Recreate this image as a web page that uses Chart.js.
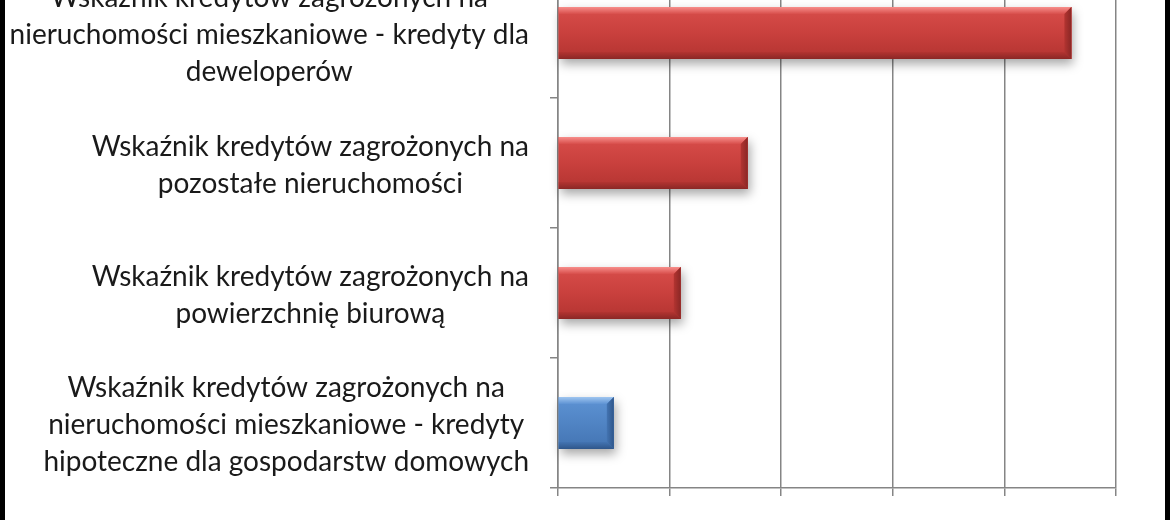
<!DOCTYPE html>
<html>
<head>
<meta charset="utf-8">
<script src="https://cdn.jsdelivr.net/npm/chart.js@4.4.1/dist/chart.umd.min.js"></script>
<style>
  html, body { margin: 0; padding: 0; width: 1170px; height: 520px; overflow: hidden; background: #fff; }
  #wrap { position: absolute; left: 0; top: -40px; width: 1170px; height: 600px; }
  .edge { position: absolute; top: 0; width: 5px; height: 520px; background: #000; }
</style>
</head>
<body>
<div id="wrap"><canvas id="chart"></canvas></div>
<div class="edge" style="left:0"></div>
<div class="edge" style="left:1165px"></div>
<script>
// category labels (one array entry per line)
const categories = [
  ['Wskaźnik kredytów zagrożonych na', 'nieruchomości mieszkaniowe - kredyty dla', 'deweloperów'],
  ['Wskaźnik kredytów zagrożonych na', 'pozostałe nieruchomości'],
  ['Wskaźnik kredytów zagrożonych na', 'powierzchnię biurową'],
  ['Wskaźnik kredytów zagrożonych na', 'nieruchomości mieszkaniowe - kredyty', 'hipoteczne dla gospodarstw domowych']
];
// NPL ratio, %
const nplRatio = [23.0, 8.5, 5.5, 2.5];
const xTickValues = [0, 5, 10, 15, 20, 25];
const barColors = ['red', 'red', 'red', 'blue'];

const palette = {
  red:  { hi: '#f78e8b', top: '#d84e4b', mid: '#c9403d', low: '#b33431', edge: '#8a2725' },
  blue: { hi: '#a0c6f0', top: '#5e93d4', mid: '#5084c4', low: '#4374b2', edge: '#2f568a' }
};

const LABEL_FONT = '28px Lato';
const LINE_GAP = 37;
const GRID = '#858585';

// soft drop shadow under the bars, then a bevelled look on top
const bevel = {
  id: 'bevel',
  beforeDatasetsDraw(chart) {
    const ctx = chart.ctx;
    chart.getDatasetMeta(0).data.forEach((bar, i) => {
      const left = Math.min(bar.base, bar.x), right = Math.max(bar.base, bar.x);
      const top = bar.y - bar.height / 2;
      ctx.save();
      ctx.shadowColor = 'rgba(0,0,0,0.35)';
      ctx.shadowBlur = 10;
      ctx.shadowOffsetX = 2;
      ctx.shadowOffsetY = 5;
      ctx.fillStyle = palette[barColors[i]].mid;
      ctx.fillRect(left, top, right - left, bar.height);
      ctx.restore();
    });
  },
  afterDatasetsDraw(chart) {
    const ctx = chart.ctx;
    chart.getDatasetMeta(0).data.forEach((bar, i) => {
      const c = palette[barColors[i]];
      const left = Math.min(bar.base, bar.x), right = Math.max(bar.base, bar.x);
      const top = bar.y - bar.height / 2, bottom = bar.y + bar.height / 2;
      const b = 7;
      ctx.save();
      let g = ctx.createLinearGradient(0, top, 0, bottom);
      g.addColorStop(0, c.top);
      g.addColorStop(0.5, c.mid);
      g.addColorStop(1, c.low);
      ctx.fillStyle = g;
      ctx.fillRect(left, top, right - left, bottom - top);

      g = ctx.createLinearGradient(0, top, 0, top + b);
      g.addColorStop(0, c.hi);
      g.addColorStop(1, c.top);
      ctx.fillStyle = g;
      ctx.beginPath();
      ctx.moveTo(left, top); ctx.lineTo(right, top);
      ctx.lineTo(right - b, top + b); ctx.lineTo(left, top + b);
      ctx.closePath(); ctx.fill();

      g = ctx.createLinearGradient(0, bottom - b, 0, bottom);
      g.addColorStop(0, c.low);
      g.addColorStop(1, c.edge);
      ctx.fillStyle = g;
      ctx.beginPath();
      ctx.moveTo(left, bottom); ctx.lineTo(right, bottom);
      ctx.lineTo(right - b, bottom - b); ctx.lineTo(left, bottom - b);
      ctx.closePath(); ctx.fill();

      g = ctx.createLinearGradient(right - b, 0, right, 0);
      g.addColorStop(0, c.low);
      g.addColorStop(1, c.edge);
      ctx.fillStyle = g;
      ctx.beginPath();
      ctx.moveTo(right, top); ctx.lineTo(right, bottom);
      ctx.lineTo(right - b, bottom - b); ctx.lineTo(right - b, top + b);
      ctx.closePath(); ctx.fill();
      ctx.restore();
    });
  }
};

// multi-line labels: block right-aligned to the axis, lines centred in the block
const catLabels = {
  id: 'catLabels',
  afterDraw(chart) {
    const y = chart.scales.y;
    const ctx = chart.ctx;
    ctx.save();
    ctx.font = LABEL_FONT;
    ctx.fillStyle = '#1a1a1a';
    ctx.textAlign = 'center';
    ctx.textBaseline = 'middle';
    categories.forEach((lines, i) => {
      const cy = y.getPixelForValue(i) + 2;
      const widest = Math.max(...lines.map(l => ctx.measureText(l).width));
      const cx = y.right - 29 - widest / 2;
      lines.forEach((l, k) => {
        ctx.fillText(l, cx, cy + (k - (lines.length - 1) / 2) * LINE_GAP);
      });
    });
    ctx.restore();
  }
};

new Chart(document.getElementById('chart'), {
  type: 'bar',
  data: {
    labels: categories.map(c => c.join(' ')),
    datasets: [{
      data: nplRatio,
      backgroundColor: barColors.map(k => palette[k].mid),
      borderWidth: 0,
      barPercentage: 0.5,
      categoryPercentage: 0.8
    }]
  },
  options: {
    indexAxis: 'y',
    responsive: true,
    maintainAspectRatio: false,
    animation: false,
    layout: { padding: { top: 8, right: 54, left: 0, bottom: 0 } },
    plugins: { legend: { display: false }, tooltip: { enabled: false } },
    scales: {
      x: {
        min: xTickValues[0],
        max: xTickValues[xTickValues.length - 1],
        afterBuildTicks(s) { s.ticks = xTickValues.map(v => ({ value: v })); },
        ticks: { padding: 26, callback: v => v + '%', color: '#000', font: { family: 'Lato', size: 25 } },
        grid: { color: GRID, lineWidth: 1.5, tickLength: 8 },
        border: { color: GRID, width: 1.5 },
        afterFit(s) { s.height = 72; }
      },
      y: {
        ticks: { display: false },
        grid: { drawOnChartArea: false, color: GRID, lineWidth: 1.5, tickLength: 8, offset: true },
        border: { color: GRID, width: 1.5 },
        afterFit(s) { s.width = 558; }
      }
    }
  },
  plugins: [bevel, catLabels]
});
</script>
</body>
</html>
